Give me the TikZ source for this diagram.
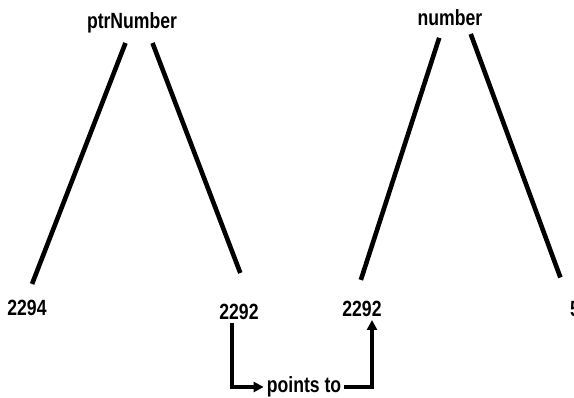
\documentclass[tikz,border=0pt]{standalone}
\usepackage{fontspec}
\setmainfont{Liberation Sans}[FakeStretch=0.8]
\usetikzlibrary{arrows.meta,positioning}

\begin{document}
\begin{tikzpicture}[
    x=1pt, y=-1pt,
    label/.style={inner sep=3pt, font=\fontsize{22}{24}\selectfont\bfseries},
    leg/.style={line width=4.6pt},
    arrow/.style={-{Triangle[length=10pt,width=10pt]}, line width=3.2pt}
]
    \clip (0,0) rectangle (574,398);

    \node[label] (ptr) at (132,23) {ptrNumber};
    \node[label] (lval) at (27,308) {2294};
    \node[label] (lref) at (239,312) {2292};

    \node[label] (num) at (450,18) {number};
    \node[label] (raddr) at (362,309) {2292};
    \node[label] (rval) at (575,309) {5};

    \node[label] (pts) at (304,387) {points to};

    \draw[leg, shorten <=7pt, shorten >=14pt] ([xshift=-4pt]ptr.south) -- (lval.north);
    \draw[leg, shorten <=7pt, shorten >=30pt] ([xshift=18pt]ptr.south) -- ([xshift=12pt]lref.north);
    \draw[leg, shorten <=9pt, shorten >=19pt] ([xshift=-8pt]num.south) -- ([xshift=-7pt]raddr.north);
    \draw[leg, shorten <=5pt, shorten >=22pt] ([xshift=19pt]num.south) -- ([xshift=-7pt]rval.north);

    \draw[arrow] ([xshift=-7pt]lref.south) |- (pts.west);
    \draw[arrow] (pts.east) -| ([xshift=10pt]raddr.south);
\end{tikzpicture}
\end{document}
